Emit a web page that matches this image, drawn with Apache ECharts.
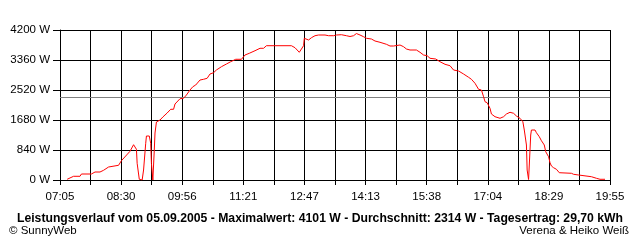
<!DOCTYPE html>
<html>
<head>
<meta charset="utf-8">
<script src="https://cdn.jsdelivr.net/npm/echarts@6/dist/echarts.min.js"></script>
<style>
html,body{margin:0;padding:0;background:#fff;}
#c{width:640px;height:240px;}
</style>
</head>
<body>
<div id="c"></div>
<script>
// Axis tick labels (every other vertical grid line carries a label)
const xTickLabels = ['07:05','08:30','09:56','11:21','12:47','14:13','15:38','17:04','18:29','19:55'];
const axisStart = '07:05';
const axisEnd = '19:55';
const yMax = 4200;
const yStep = 840;
const average = 2314;

// Measured power curve
const times = ['07:15','07:24','07:33','07:35','07:49','07:54','08:01','08:06','08:13','08:15',
 '08:27','08:31','08:43','08:48','08:50','08:52','08:53','08:56','09:00','09:02',
 '09:05','09:06','09:10','09:12','09:13','09:15','09:16','09:17','09:18','09:20',
 '09:25','09:29','09:35','09:40','09:44','09:46','09:53','09:58','10:00','10:02',
 '10:07','10:11','10:15','10:21','10:26','10:31','10:35','10:40','10:44','10:51',
 '10:58','11:04','11:11','11:19','11:24','11:30','11:38','11:45','11:50','11:54',
 '12:29','12:34','12:40','12:43','12:46','12:47','12:49','12:53','12:57','13:02',
 '13:07','13:16','13:21','13:28','13:32','13:39','13:46','13:51','13:56','14:00',
 '14:05','14:10','14:14','14:21','14:26','14:33','14:35','14:42','14:47','14:52',
 '14:54','15:01','15:06','15:10','15:15','15:24','15:29','15:34','15:39','15:43',
 '15:51','15:57','16:04','16:11','16:16','16:23','16:25','16:30','16:37','16:41',
 '16:46','16:51','16:55','16:58','17:00','17:03','17:07','17:09','17:14','17:21',
 '17:26','17:30','17:35','17:40','17:44','17:49','17:53','17:55','17:56','17:58',
 '17:59','18:01','18:02','18:03','18:04','18:05','18:10','18:12','18:16','18:19',
 '18:23','18:25','18:29','18:31','18:33','18:36','18:40','18:44','19:01','19:04',
 '19:11','19:29','19:36','19:41','19:48'];
const power = [20,104,104,168,168,224,224,272,364,412,
 412,540,804,988,1008,860,468,20,0,280,
 1028,1232,1232,1028,468,0,0,840,1316,1624,
 1680,1764,1876,1980,1980,2128,2276,2288,2304,2380,
 2520,2612,2660,2800,2820,2848,2968,3004,3080,3172,
 3248,3312,3380,3380,3500,3548,3620,3688,3688,3760,
 3760,3704,3576,3668,3760,3968,4012,3920,3984,4040,
 4060,4060,4040,4040,4060,4068,4040,4018,4040,4101,
 4060,4012,3968,3948,3892,3856,3800,3800,3752,3752,
 3780,3780,3732,3668,3640,3640,3576,3500,3480,3408,
 3388,3312,3240,3200,3080,3052,3032,2968,2876,2820,
 2708,2540,2520,2332,2192,2164,2008,1848,1772,1728,
 1772,1848,1896,1868,1792,1728,1632,1400,1260,980,
 280,14,420,840,1260,1400,1400,1324,1212,1100,
 980,792,652,484,392,344,300,204,188,160,
 140,92,48,20,20];

const titleText = 'Leistungsverlauf vom 05.09.2005 - Maximalwert: 4101 W - Durchschnitt: 2314 W - Tagesertrag: 29,70 kWh';
const leftCredit = '© SunnyWeb';
const rightCredit = 'Verena & Heiko Weiß';

function toMin(t){const p=t.split(':');return (+p[0])*60+(+p[1]);}
const t0 = toMin(axisStart);
const span = toMin(axisEnd) - t0;
const xStep = span / ((xTickLabels.length - 1) * 2);
const seriesData = times.map((t,i)=>[toMin(t)-t0, power[i]]);

const FONT = '"Liberation Sans", Arial, sans-serif';
const chart = echarts.init(document.getElementById('c'), null, {renderer:'canvas'});
chart.setOption({
  animation:false,
  backgroundColor:'#ffffff',
  grid:{left:60,right:30,top:30,bottom:60,containLabel:false},
  title:[
    {text:titleText,left:'center',top:208,textStyle:{fontFamily:FONT,fontSize:12.2,fontWeight:'bold',color:'#000'}},
    {text:leftCredit,left:4,top:220,textStyle:{fontFamily:FONT,fontSize:11.5,fontWeight:'normal',color:'#000'}},
    {text:rightCredit,right:6,top:220,textStyle:{fontFamily:FONT,fontSize:11.5,fontWeight:'normal',color:'#000'}}
  ],
  xAxis:{
    type:'value',min:0,max:span,interval:xStep,
    axisLine:{show:true,lineStyle:{color:'#000',width:1}},
    axisTick:{show:true,length:5,lineStyle:{color:'#000'}},
    splitLine:{show:true,lineStyle:{color:'#000',width:1}},
    axisLabel:{
      showMinLabel:true,showMaxLabel:true,margin:11,
      fontFamily:FONT,fontSize:11.5,color:'#000',
      formatter:function(v){const k=Math.round(v/xStep);return k%2===0?(xTickLabels[k/2]||''):'';}
    }
  },
  yAxis:{
    type:'value',min:0,max:yMax,interval:yStep,
    axisLine:{show:true,lineStyle:{color:'#000',width:1}},
    axisTick:{show:true,length:7,lineStyle:{color:'#000'}},
    splitLine:{show:true,lineStyle:{color:'#000',width:1}},
    axisLabel:{margin:10,fontFamily:FONT,fontSize:11.5,color:'#000',formatter:function(v){return v+' W';}}
  },
  series:[{
    type:'line',data:seriesData,showSymbol:false,symbol:'none',
    lineStyle:{color:'#ff0000',width:1},
    z:5,
    markLine:{
      silent:true,symbol:['none','none'],label:{show:false},
      lineStyle:{color:'#808080',type:'solid',width:1},
      data:[{yAxis:average}]
    }
  }]
});
</script>
</body>
</html>
